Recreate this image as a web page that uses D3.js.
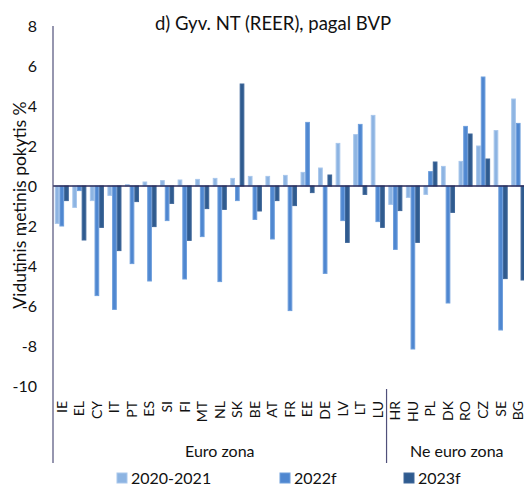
<!DOCTYPE html>
<html>
<head>
<meta charset="utf-8">
<script src="https://cdn.jsdelivr.net/npm/d3@7"></script>
<style>
  body { margin: 0; background: #fff; }
  svg { font-family: Lato, "Open Sans", sans-serif; }
  .tick-label { font-size: 16px; fill: #111; }
  .cat-label { font-size: 14px; fill: #111; }
</style>
</head>
<body>
<svg id="chart" width="524" height="488"></svg>
<script>
// Categories (countries) and the group they belong to
const euroCats = ['IE', 'EL', 'CY', 'IT', 'PT', 'ES', 'SI', 'FI', 'MT', 'NL', 'SK', 'BE', 'AT', 'FR', 'EE', 'DE', 'LV', 'LT', 'LU'];
const nonEuroCats = ['HR', 'HU', 'PL', 'DK', 'RO', 'CZ', 'SE', 'BG'];
const groups = [
  { name: 'Euro zona', cats: euroCats },
  { name: 'Ne euro zona', cats: nonEuroCats }
];
const categories = [...euroCats, ...nonEuroCats];

// Series values, one per category (same order as categories)
const series = ['2020-2021', '2022f', '2023f'];
const v2020 = [-1.87, -1.07, -0.73, -0.47, 0.07, 0.2, 0.27, 0.3, 0.33, 0.38, 0.38, 0.48, 0.48, 0.53, 0.68, 0.9, 2.13, 2.57, 3.53,
  -0.92, -0.57, -0.42, 0.98, 1.23, 2.0, 2.77, 4.35];
const v2022 = [-2.0, -0.23, -5.48, -6.17, -3.88, -4.75, -1.73, -4.65, -2.53, -4.78, -0.73, -1.67, -2.65, -6.23, 3.18, -4.37, -1.73, 3.08, -1.78,
  -3.17, -8.15, 0.72, -5.85, 2.98, 5.45, -7.2, 3.13];
const v2023 = [-0.73, -2.7, -2.07, -3.23, -0.78, -2.03, -0.87, -2.72, -1.13, -1.17, 5.1, -1.25, -0.73, -0.98, -0.33, 0.55, -2.82, -0.42, -2.07,
  -1.23, -2.82, 1.2, -1.32, 2.6, 1.35, -4.63, -4.7];
const seriesValues = [v2020, v2022, v2023];

const yTicks = [-10, -8, -6, -4, -2, 0, 2, 4, 6, 8];

// Colours per series
const fills = ['#8db4e2', '#4f87d0', '#2f5b8f'];
const strokes = ['#a9c7ec', '#6f9fdc', '#41689a'];

const svg = d3.select('#chart');
const margin = { left: 53, top: 26 };
const plotRight = 527;

// Scales
const x0 = d3.scaleBand()
  .domain(categories)
  .range([margin.left, plotRight])
  .paddingInner(0.2)
  .paddingOuter(0.1);

const x1 = d3.scaleBand()
  .domain(series)
  .range([0, x0.bandwidth()]);

const y = d3.scaleLinear()
  .domain([-10, 8])
  .range([386, margin.top]);

// Bars
const rows = categories.map((c, i) => ({
  cat: c,
  values: series.map((s, j) => ({ key: s, idx: j, value: seriesValues[j][i] }))
}));

const catGroups = svg.append('g')
  .selectAll('g')
  .data(rows)
  .join('g')
  .attr('transform', d => `translate(${x0(d.cat)},0)`);

catGroups.selectAll('rect')
  .data(d => d.values)
  .join('rect')
  .attr('x', d => x1(d.key) + 0.5)
  .attr('width', x1.bandwidth() - 1)
  .attr('y', d => y(Math.max(0, d.value)))
  .attr('height', d => Math.abs(y(d.value) - y(0)))
  .attr('fill', d => fills[d.idx])
  .attr('stroke', d => strokes[d.idx])
  .attr('stroke-width', 1);

// Zero line
svg.append('line')
  .attr('x1', margin.left)
  .attr('x2', plotRight)
  .attr('y1', y(0))
  .attr('y2', y(0))
  .attr('stroke', '#2a2a58')
  .attr('stroke-width', 1.3);

// Value axis line, continuing down through the category labels
svg.append('line')
  .attr('x1', margin.left)
  .attr('x2', margin.left)
  .attr('y1', y(8))
  .attr('y2', 463)
  .attr('stroke', '#50507a')
  .attr('stroke-width', 1.2);

// Y tick labels
svg.append('g')
  .selectAll('text')
  .data(yTicks)
  .join('text')
  .attr('class', 'tick-label')
  .attr('x', 37)
  .attr('y', d => y(d))
  .attr('dy', '0.35em')
  .attr('text-anchor', 'end')
  .text(d => d);

// Y axis title
svg.append('text')
  .attr('transform', 'translate(20,205) rotate(-90)')
  .attr('text-anchor', 'middle')
  .attr('dy', '0.35em')
  .style('font-size', '17.5px')
  .attr('fill', '#111')
  .text('Vidutinis metinis pokytis %');

// Category labels (rotated)
svg.append('g')
  .selectAll('text')
  .data(categories)
  .join('text')
  .attr('class', 'cat-label')
  .attr('transform', d => `translate(${x0(d) + x0.bandwidth() / 2},401) rotate(-90)`)
  .attr('text-anchor', 'end')
  .attr('dy', '0.35em')
  .text(d => d);

// Group separators and labels
groups.forEach((g, i) => {
  const first = g.cats[0];
  const last = g.cats[g.cats.length - 1];
  const left = x0(first) - x0.step() * x0.paddingInner() / 2;
  const right = x0(last) + x0.bandwidth() + x0.step() * x0.paddingInner() / 2;
  if (i > 0) {
    svg.append('line')
      .attr('x1', left).attr('x2', left)
      .attr('y1', 389).attr('y2', 463)
      .attr('stroke', '#50507a')
      .attr('stroke-width', 1.2);
  }
  svg.append('text')
    .attr('x', (left + right) / 2)
    .attr('y', 457)
    .attr('text-anchor', 'middle')
    .style('font-size', '16px')
    .attr('fill', '#111')
    .text(g.name);
});

// Title
svg.append('text')
  .attr('x', 273)
  .attr('y', 30)
  .attr('text-anchor', 'middle')
  .style('font-size', '18.5px')
  .attr('fill', '#111')
  .text('d) Gyv. NT (REER), pagal BVP');

// Legend
const legendX = [117, 280, 404];
const legend = svg.append('g')
  .selectAll('g')
  .data(series)
  .join('g')
  .attr('transform', (d, i) => `translate(${legendX[i]},473)`);

legend.append('rect')
  .attr('width', 10)
  .attr('height', 10)
  .attr('fill', (d, i) => fills[i])
  .attr('stroke', (d, i) => strokes[i]);

legend.append('text')
  .attr('x', 14)
  .attr('y', 5)
  .attr('dy', '0.35em')
  .style('font-size', '16px')
  .attr('fill', '#111')
  .text(d => d);
</script>
</body>
</html>
